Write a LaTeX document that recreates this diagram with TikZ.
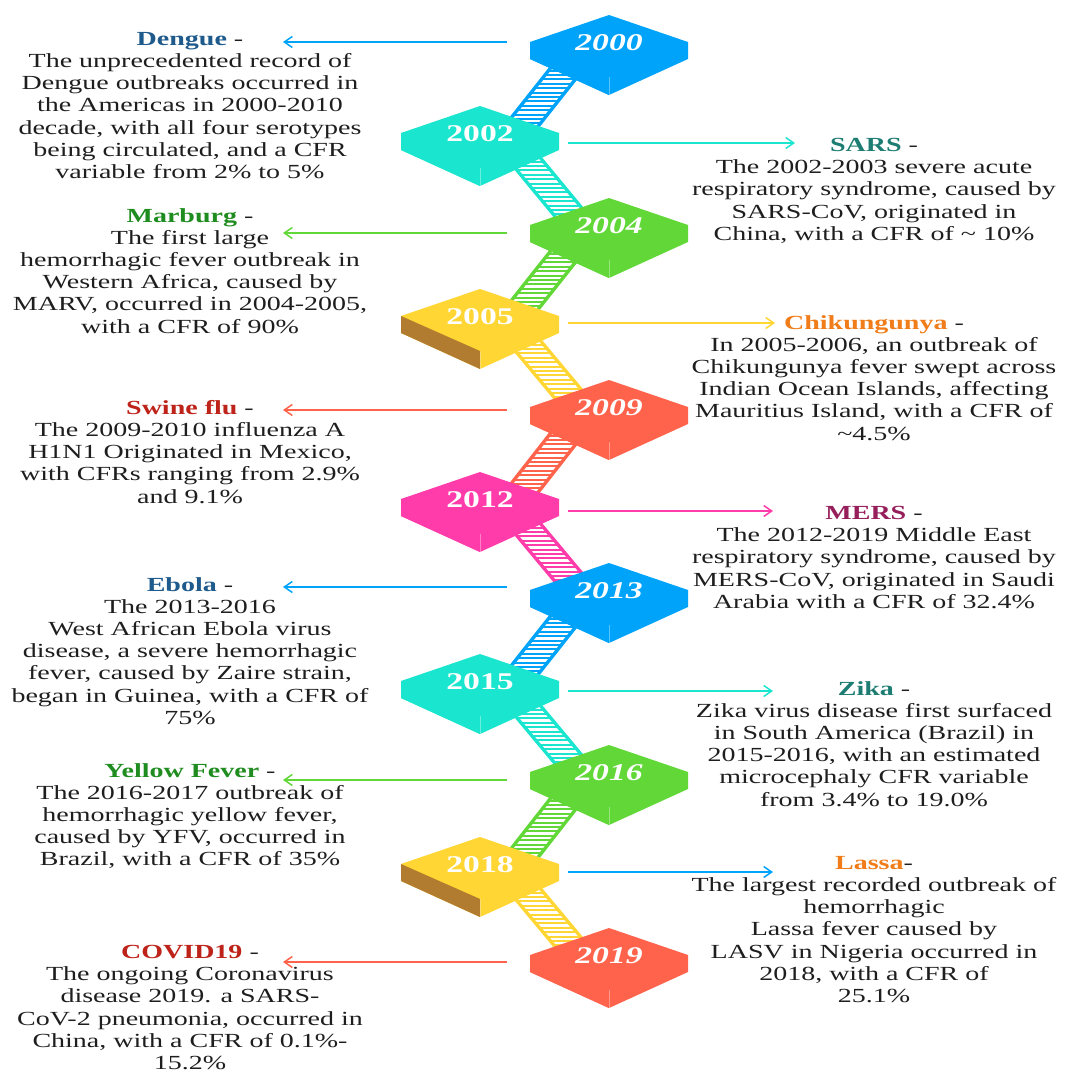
\documentclass[tikz,border=0pt]{standalone}
\usepackage{fontspec}
\setmainfont{Liberation Serif}[FakeStretch=1.4]
\usepackage{tikz}
\usetikzlibrary{arrows.meta}

\definecolor{cBlue}{RGB}{0,163,250}
\definecolor{cTeal}{RGB}{26,229,206}
\definecolor{cGreen}{RGB}{98,216,56}
\definecolor{cYellow}{RGB}{255,214,51}
\definecolor{cRed}{RGB}{255,99,76}
\definecolor{cPink}{RGB}{255,60,170}
\definecolor{cBrown}{RGB}{178,124,48}
\definecolor{tBlue}{RGB}{31,90,140}
\definecolor{tTeal}{RGB}{30,125,115}
\definecolor{tGreen}{RGB}{30,140,30}
\definecolor{tOrange}{RGB}{240,125,25}
\definecolor{tRed}{RGB}{190,35,25}
\definecolor{tPurple}{RGB}{150,30,90}
\definecolor{ink}{RGB}{30,30,30}

% coloured disease name in the first line of a block
\newcommand{\disease}[2]{{\bfseries\color{#1}#2}}

% 3D year block: name, x, y, top colour, left side colour, label
\newcommand{\yearblock}[6]{%
  \begin{scope}[shift={(#2,#3)}]
    \fill[#4] (0,-27) -- (79,0) -- (79,17) -- (0,53) -- (-79,17) -- (-79,0) -- cycle;
    \fill[#5] (-79,0) -- (0,35) -- (0,53) -- (-79,17) -- cycle;
    \draw[seam] (0,35) -- (0,53);
    \node[yr] (#1) at (0,1) {#6};
  \end{scope}}

% ladder between two blocks: x1, y1, x2, y2, colour
\newcommand{\ladder}[5]{%
  \fill[#5] (#1-19,#2) -- (#1+19,#2) -- (#3+19,#4) -- (#3-19,#4) -- cycle;
  \begin{scope}
    \clip (#1-14.5,#2) -- (#1+14.5,#2) -- (#3+14.5,#4) -- (#3-14.5,#4) -- cycle;
    \foreach \k in {0,...,21}
      \draw[rung] (440,#2+\k*4.4) -- (660,#2+\k*4.4);
  \end{scope}}

\begin{document}
\begin{tikzpicture}[
    x=1pt, y=-1pt,
    yr/.style={text=white, inner sep=0pt, font=\fontsize{24}{24}\selectfont\bfseries},
    seam/.style={white, opacity=.35, line width=.8pt},
    rung/.style={white, line width=2.5pt},
    info/.style={align=center, inner sep=0pt, anchor=north, text=ink,
      font=\fontsize{20}{22.2}\selectfont},
    link/.style={-{Straight Barb[length=8pt,width=11pt]}, line width=1.5pt},
  ]
  \useasboundingbox (0,0) rectangle (1086,1075);

  % ladders
  \ladder{588}{42}{516}{133}{cBlue}
  \ladder{503}{133}{579}{225}{cTeal}
  \ladder{588}{225}{516}{316}{cGreen}
  \ladder{503}{316}{579}{407}{cYellow}
  \ladder{588}{407}{516}{499}{cRed}
  \ladder{503}{499}{579}{590}{cPink}
  \ladder{588}{590}{516}{681}{cBlue}
  \ladder{503}{681}{579}{772}{cTeal}
  \ladder{588}{772}{516}{864}{cGreen}
  \ladder{503}{864}{579}{955}{cYellow}

  % year blocks
  \yearblock{y2000}{609}{42}{cBlue}{cBlue}{\itshape 2000}
  \yearblock{y2002}{480}{133}{cTeal}{cTeal}{2002}
  \yearblock{y2004}{609}{225}{cGreen}{cGreen}{\itshape 2004}
  \yearblock{y2005}{480}{316}{cYellow}{cBrown}{2005}
  \yearblock{y2009}{609}{407}{cRed}{cRed}{\itshape 2009}
  \yearblock{y2012}{480}{499}{cPink}{cPink}{2012}
  \yearblock{y2013}{609}{590}{cBlue}{cBlue}{\itshape 2013}
  \yearblock{y2015}{480}{681}{cTeal}{cTeal}{2015}
  \yearblock{y2016}{609}{772}{cGreen}{cGreen}{\itshape 2016}
  \yearblock{y2018}{480}{864}{cYellow}{cBrown}{2018}
  \yearblock{y2019}{609}{955}{cRed}{cRed}{\itshape 2019}

  % descriptions
  \node[info] (dengue) at (190,32) {\disease{tBlue}{Dengue} -\\The unprecedented record of\\Dengue outbreaks occurred in\\the Americas in 2000-2010\\decade, with all four serotypes\\being circulated, and a CFR\\variable from 2\% to 5\%};
  \node[info] (sars) at (874,138) {\disease{tTeal}{SARS} -\\The 2002-2003 severe acute\\respiratory syndrome, caused by\\SARS-CoV, originated in\\China, with a CFR of \textasciitilde{} 10\%};
  \node[info] (marburg) at (190,208) {\disease{tGreen}{Marburg} -\\The first large\\hemorrhagic fever outbreak in\\Western Africa, caused by\\MARV, occurred in 2004-2005,\\with a CFR of 90\%};
  \node[info] (chik) at (874,315) {\disease{tOrange}{Chikungunya} -\\In 2005-2006, an outbreak of\\Chikungunya fever swept across\\Indian Ocean Islands, affecting\\Mauritius Island, with a CFR of\\\textasciitilde4.5\%};
  \node[info] (swine) at (190,400) {\disease{tRed}{Swine flu} -\\The 2009-2010 influenza A\\H1N1 Originated in Mexico,\\with CFRs ranging from 2.9\%\\and 9.1\%};
  \node[info] (mers) at (874,506) {\disease{tPurple}{MERS} -\\The 2012-2019 Middle East\\respiratory syndrome, caused by\\MERS-CoV, originated in Saudi\\Arabia with a CFR of 32.4\%};
  \node[info] (ebola) at (190,577) {\disease{tBlue}{Ebola} -\\The 2013-2016\\West African Ebola virus\\disease, a severe hemorrhagic\\fever, caused by Zaire strain,\\began in Guinea, with a CFR of\\75\%};
  \node[info] (zika) at (874,681) {\disease{tTeal}{Zika} -\\Zika virus disease first surfaced\\in South America (Brazil) in\\2015-2016, with an estimated\\microcephaly CFR variable\\from 3.4\% to 19.0\%};
  \node[info] (yellow) at (190,763) {\disease{tGreen}{Yellow Fever} -\\The 2016-2017 outbreak of\\hemorrhagic yellow fever,\\caused by YFV, occurred in\\Brazil, with a CFR of 35\%};
  \node[info] (lassa) at (874,856) {\disease{tOrange}{Lassa}-\\The largest recorded outbreak of\\hemorrhagic\\Lassa fever caused by\\LASV in Nigeria occurred in\\2018, with a CFR of\\25.1\%};
  \node[info] (covid) at (190,945) {\disease{tRed}{COVID19} -\\The ongoing Coronavirus\\disease 2019. a SARS-\\CoV-2 pneumonia, occurred in\\China, with a CFR of 0.1\%-\\15.2\%};

  % arrow ends
  \coordinate (dengue-from) at (507,42);  \coordinate (dengue-to) at (283,42);
  \coordinate (sars-from) at (568,143);   \coordinate (sars-to) at (795,143);
  \coordinate (marburg-from) at (507,233); \coordinate (marburg-to) at (283,233);
  \coordinate (chik-from) at (568,323);   \coordinate (chik-to) at (775,323);
  \coordinate (swine-from) at (507,410);  \coordinate (swine-to) at (283,410);
  \coordinate (mers-from) at (568,511);   \coordinate (mers-to) at (773,511);
  \coordinate (ebola-from) at (507,587);  \coordinate (ebola-to) at (283,587);
  \coordinate (zika-from) at (568,691);   \coordinate (zika-to) at (773,691);
  \coordinate (yellow-from) at (507,780); \coordinate (yellow-to) at (283,780);
  \coordinate (lassa-from) at (568,872);  \coordinate (lassa-to) at (773,872);
  \coordinate (covid-from) at (507,962);  \coordinate (covid-to) at (283,962);

  \draw[link, cBlue] (dengue-from) -- (dengue-to);
  \draw[link, cTeal] (sars-from) -- (sars-to);
  \draw[link, cGreen] (marburg-from) -- (marburg-to);
  \draw[link, cYellow] (chik-from) -- (chik-to);
  \draw[link, cRed] (swine-from) -- (swine-to);
  \draw[link, cPink] (mers-from) -- (mers-to);
  \draw[link, cBlue] (ebola-from) -- (ebola-to);
  \draw[link, cTeal] (zika-from) -- (zika-to);
  \draw[link, cGreen] (yellow-from) -- (yellow-to);
  \draw[link, cBlue] (lassa-from) -- (lassa-to);
  \draw[link, cRed] (covid-from) -- (covid-to);
\end{tikzpicture}
\end{document}
